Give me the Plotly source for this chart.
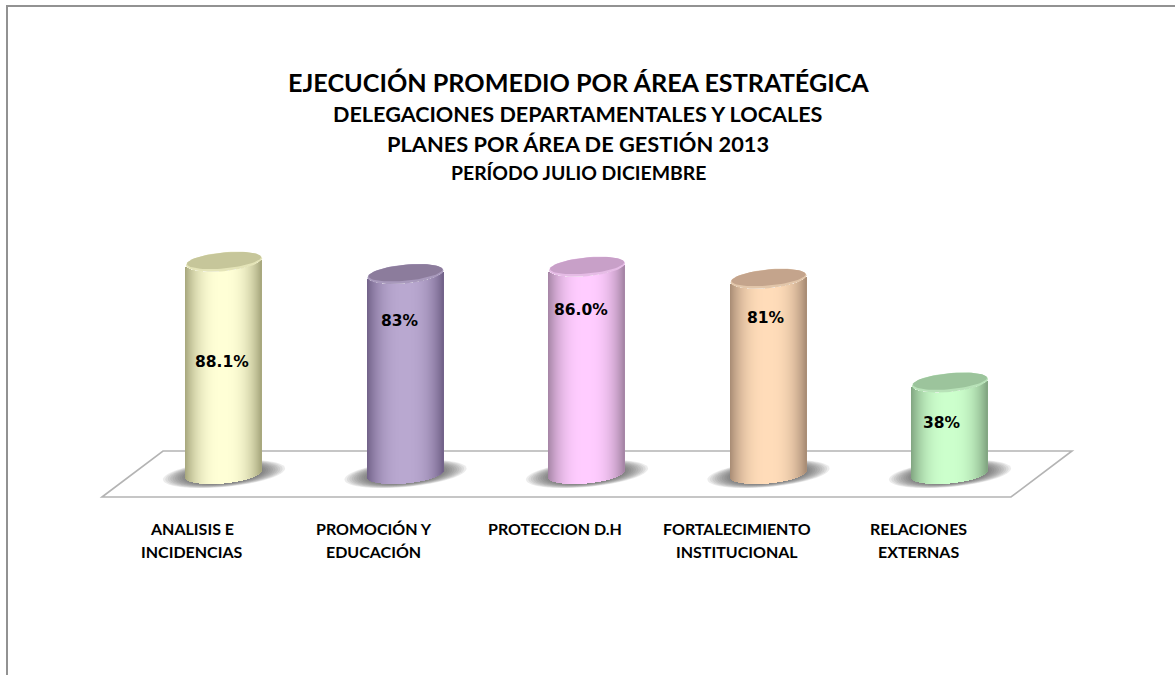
import numpy as np
import plotly.graph_objects as go

# ---- data ----
categories = ["ANALISIS E<br>INCIDENCIAS", "PROMOCIÓN Y<br>EDUCACIÓN", "PROTECCION D.H",
              "FORTALECIMIENTO<br>INSTITUCIONAL", "RELACIONES<br>EXTERNAS"]
values = [88.1, 83, 86.0, 81, 38]
value_labels = ["88.1%", "83%", "86.0%", "81%", "38%"]
title_lines = ["EJECUCIÓN PROMEDIO POR ÁREA ESTRATÉGICA",
               "DELEGACIONES DEPARTAMENTALES Y LOCALES",
               "PLANES POR ÁREA DE GESTIÓN 2013",
               "PERÍODO JULIO DICIEMBRE"]

# ---- styles ----
light = ["#ffffd6", "#b9a8d0", "#ffccff", "#ffdcb9", "#ccffcc"]
dark = ["#a6a67c", "#716188", "#a484a4", "#a78b74", "#80a480"]
cap_outer = ["#e4e4b8", "#a899bc", "#e6bce6", "#e2c6aa", "#b8e2b8"]
cap_inner = ["#c6c69a", "#8c7c9c", "#c8a0c8", "#c4a48c", "#9cc49c"]
label_px_y = [362, 321, 310, 318, 423]
label_px_x = [222, 400, 581, 766, 942]
title_px_y = [82, 114, 143, 172]
title_sizes = [25.2, 21.6, 21.8, 19.4]
TITLE_X = 578
W, H = 1175, 675
CX0, DX = 224.0, 181.5     # px of category 0, px per category
Y0, SY = 474.0, 2.41       # px of value 0, px per percent
A, B, S = 38.0, 9.5, 0.09  # ellipse half width, half height, shear
LABEL_SHIFT = -32 / DX
ROW_PX = [528, 551]

def px_x(p): return p / W
def px_y(p): return 1 - p / H
def hexrgb(h): return np.array([int(h[i:i + 2], 16) for i in (1, 3, 5)], float)
def mix(c1, c2, t):
    c = hexrgb(c1) * (1 - t) + hexrgb(c2) * t
    return "rgb(%d,%d,%d)" % tuple(c.round())

def ellipse(i, yval, a, b, dy_px=0):
    t = np.linspace(0, 2 * np.pi, 73)
    dx = a * np.cos(t)
    dy = S * dx + b * np.sin(t) + dy_px
    return i + dx / DX, yval + dy / SY

fig = go.Figure()

shapes = [
    dict(type="path", xref="paper", yref="paper", layer="below",
         path="M %f %f L %f %f L %f %f L %f %f Z" % (px_x(102), px_y(497), px_x(163), px_y(451),
                                                    px_x(1072), px_y(451), px_x(1011), px_y(497)),
         line=dict(color="#b4b4b4", width=1.6), fillcolor="white"),
    dict(type="path", xref="paper", yref="paper", layer="below",
         path="M %f %f L %f %f L %f %f" % (px_x(7), px_y(675), px_x(7), px_y(6), px_x(1175), px_y(6)),
         line=dict(color="#929292", width=2)),
]

# shadows on the floor (under the traces)
for i, v in enumerate(values):
    for k in range(10):
        a = 61 - k * 2.4
        b = 13 - k * 0.35
        xs, ys = ellipse(i, 0, a, b, dy_px=0)
        d = "M " + " L ".join("%f %f" % (x, y) for x, y in zip(xs, ys)) + " Z"
        shapes.append(dict(type="path", xref="x", yref="y", layer="below", path=d,
                           line=dict(width=0), fillcolor="rgba(80,80,80,0.11)"))

# cylinders: one bar per thin vertical strip, every strip as tall as the value
edges = np.arange(-A, A + 0.01, 1.0)
mids = (edges[:-1] + edges[1:]) / 2
for i, (cat, v) in enumerate(zip(categories, values)):
    low = (S * mids - B * np.sqrt(1 - (mids / A) ** 2)) / SY
    shade = np.abs(mids / A) ** 2.6
    fig.add_trace(go.Bar(
        x=i + mids / DX, y=[v] * len(mids), base=low,
        width=[1.3 / DX] * len(mids), name=cat.replace("<br>", " "),
        marker=dict(color=[mix(light[i], dark[i], t) for t in shade], line=dict(width=0)),
        hoverinfo="skip", showlegend=False))
    # cap
    xs, ys = ellipse(i, v, A, B)
    fig.add_trace(go.Scatter(x=xs, y=ys, mode="lines", fill="toself", line=dict(width=0),
                             fillcolor=cap_outer[i], hoverinfo="skip", showlegend=False))
    xs, ys = ellipse(i, v, A - 1, B - 1.5, dy_px=1.2)
    fig.add_trace(go.Scatter(x=xs, y=ys, mode="lines", fill="toself", line=dict(width=0),
                             fillcolor=cap_inner[i], hoverinfo="skip", showlegend=False))

ann = []
for txt, py, fs in zip(title_lines, title_px_y, title_sizes):
    ann.append(dict(text=txt, xref="paper", yref="paper", x=px_x(TITLE_X), y=px_y(py), showarrow=False,
                    xanchor="center", yanchor="middle",
                    font=dict(family="Lato", size=fs, color="#000000", weight="bold")))
for i, txt in enumerate(value_labels):
    ann.append(dict(text=txt, xref="paper", yref="paper", x=px_x(label_px_x[i]), y=px_y(label_px_y[i]),
                    showarrow=False, xanchor="center", yanchor="middle",
                    font=dict(family="DejaVu Sans", size=15.5, color="#000000", weight="bold")))
for i, cat in enumerate(categories):
    for row, line in enumerate(cat.split("<br>")):
        ann.append(dict(text=line, x=i + LABEL_SHIFT, xref="x", yref="paper", y=px_y(ROW_PX[row]),
                        showarrow=False, xanchor="center", yanchor="middle",
                        font=dict(family="Lato", size=16, color="#000000", weight="bold")))

fig.update_layout(
    width=W, height=H, margin=dict(l=0, r=0, t=0, b=0, pad=0), autosize=False,
    paper_bgcolor="white", plot_bgcolor="white", barmode="overlay", bargap=0,
    xaxis=dict(visible=False, range=[-CX0 / DX, (W - CX0) / DX], fixedrange=True),
    yaxis=dict(visible=False, range=[(Y0 - H) / SY, Y0 / SY], fixedrange=True),
    shapes=shapes, annotations=ann, showlegend=False,
)
fig.write_html("out.html", config=dict(displayModeBar=False),
               post_script="document.body.style.margin='0';document.documentElement.style.overflow='hidden';")
